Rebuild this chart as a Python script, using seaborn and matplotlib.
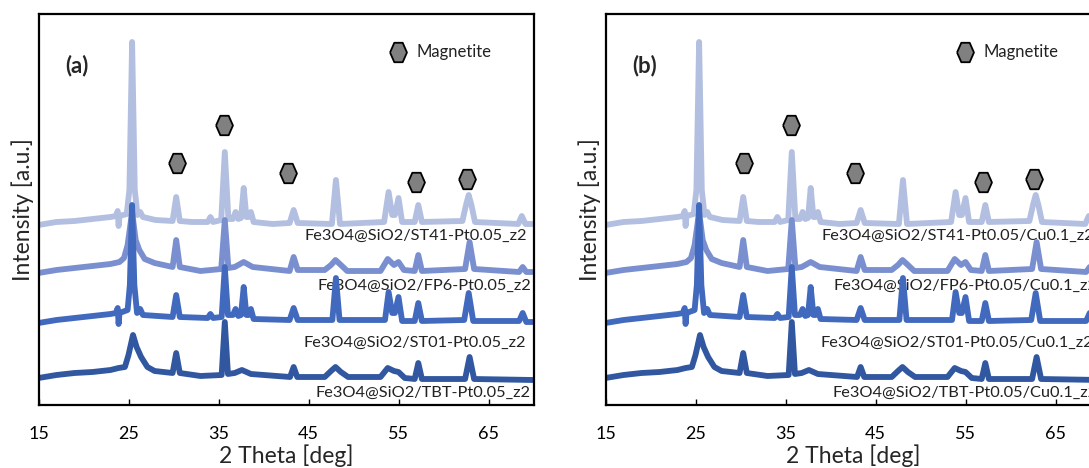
import seaborn as sns
import matplotlib.pyplot as plt

sns.set_theme(style="ticks")
plt.rcParams["font.family"] = ["Lato", "DejaVu Sans"]

# XRD patterns (2 theta in deg, intensity in arbitrary units, offsets included)
st41_x = [15.0, 17.0, 19.0, 21.0, 23.0, 23.6, 23.8, 23.9, 24.0, 24.8, 25.1, 25.4, 25.7, 26.0, 26.3, 26.6,
          28.0, 29.9, 30.3, 30.7, 32.0, 33.8, 34.1, 34.4, 35.3, 35.7, 36.1, 36.6, 36.9, 37.2, 37.5, 37.8,
          38.1, 38.35, 38.6, 38.9, 41.0, 42.9, 43.35, 43.8, 47.6, 48.05, 48.5, 53.4, 53.9, 54.3, 54.6, 55.0,
          55.4, 56.8, 57.2, 57.6, 62.1, 62.5, 62.8, 63.1, 63.5, 68.3, 68.7, 69.1, 70.0]
st41_y = [180, 183, 184, 186, 188, 189, 194, 179, 189, 191, 215, 363, 215, 190, 193, 188,
          185, 184, 208, 184, 183, 183, 188, 183, 185, 253, 186, 186, 193, 186, 187, 217,
          188, 188, 193, 183, 181, 182, 195, 182, 181, 225, 181, 183, 213, 190, 190, 207,
          183, 183, 200, 183, 184, 200, 210, 200, 183, 181, 189, 181, 181]

fp6_x = [15.0, 17.0, 19.0, 21.0, 23.0, 24.0, 24.5, 24.9, 25.4, 25.8, 26.2, 26.8, 27.9, 29.9, 30.3, 30.7,
         33.0, 35.3, 35.7, 36.1, 36.8, 37.8, 38.8, 42.9, 43.35, 43.8, 46.8, 47.5, 48.0, 48.6, 49.3, 53.0,
         53.8, 54.5, 55.0, 55.6, 56.8, 57.2, 57.6, 62.4, 62.9, 63.4, 68.4, 68.8, 69.2, 70.0]
fp6_y = [132, 135, 137, 139, 141, 143, 147, 160, 193, 165, 155, 146, 142, 138, 165, 138,
         134, 136, 185, 137, 138, 143, 138, 134, 148, 135, 135, 140, 145, 140, 134, 134,
         146, 140, 143, 135, 134, 150, 134, 136, 163, 136, 133, 138, 133, 133]

st01_x = [15.0, 17.0, 19.0, 21.0, 23.0, 23.6, 23.8, 23.9, 24.0, 24.9, 25.15, 25.4, 25.65, 25.95, 26.3, 26.6,
          29.9, 30.3, 30.7, 33.8, 34.1, 34.4, 35.35, 35.7, 36.05, 36.6, 36.9, 37.2, 37.5, 37.8, 38.1, 38.35,
          38.6, 38.9, 42.9, 43.35, 43.8, 47.65, 48.05, 48.45, 53.5, 53.9, 54.3, 54.6, 55.0, 55.4, 56.8, 57.2,
          57.6, 62.3, 62.8, 63.3, 68.4, 68.8, 69.2, 70.0]
st01_y = [82, 85, 87, 89, 91, 92, 97, 81, 92, 95, 120, 200, 120, 92, 96, 90,
          88, 110, 88, 87, 91, 87, 88, 138, 90, 90, 96, 89, 90, 118, 90, 90,
          96, 86, 85, 97, 85, 85, 127, 85, 85, 113, 92, 92, 108, 84, 84, 102,
          84, 85, 112, 84, 84, 92, 83, 83]

tbt_x = [15.0, 17.0, 19.0, 21.0, 23.0, 23.9, 24.6, 25.0, 25.5, 25.9, 26.4, 27.1, 27.9, 29.9, 30.3, 30.7,
         33.0, 35.35, 35.7, 36.05, 36.8, 37.6, 38.6, 42.95, 43.35, 43.75, 46.8, 47.5, 48.0, 48.6, 49.4, 53.0,
         53.8, 54.5, 55.0, 55.7, 56.8, 57.2, 57.6, 62.4, 62.9, 63.4, 70.0]
tbt_y = [27, 30, 32, 33, 35, 37, 38, 50, 70, 58, 48, 38, 34, 32, 52, 32,
         29, 30, 83, 31, 32, 35, 31, 28, 38, 28, 28, 34, 38, 33, 28, 28,
         37, 34, 33, 27, 26, 42, 26, 26, 48, 26, 25]

# magnetite markers
hex_x = [30.4, 35.6, 42.75, 56.9, 62.6]
hex_y = [242, 280, 232, 223, 226]

labels_a = ["Fe3O4@SiO2/ST41-Pt0.05_z2", "Fe3O4@SiO2/FP6-Pt0.05_z2",
            "Fe3O4@SiO2/ST01-Pt0.05_z2", "Fe3O4@SiO2/TBT-Pt0.05_z2"]
labels_b = ["Fe3O4@SiO2/ST41-Pt0.05/Cu0.1_z2", "Fe3O4@SiO2/FP6-Pt0.05/Cu0.1_z2",
            "Fe3O4@SiO2/ST01-Pt0.05/Cu0.1_z2", "Fe3O4@SiO2/TBT-Pt0.05/Cu0.1_z2"]
label_x = [69.3, 69.7, 69.2, 69.7]
label_y = [169, 119, 62, 12]

colors = ["#B3BFE0", "#7A8FCF", "#4169BE", "#30579F"]
traces = [(st41_x, st41_y), (fp6_x, fp6_y), (st01_x, st01_y), (tbt_x, tbt_y)]
ticks = [15, 25, 35, 45, 55, 65]

hexmark = [(-0.87, 0), (-0.43, 1), (0.43, 1), (0.87, 0), (0.43, -1), (-0.43, -1), (-0.87, 0)]

W, H = 1089, 468
fig = plt.figure(figsize=(W / 100, H / 100), dpi=100)
ax_a = fig.add_axes([38.5 / W, 63 / H, 495 / W, 391 / H])
ax_b = fig.add_axes([605.5 / W, 63 / H, 495 / W, 391 / H])


def draw_panel(ax, tag, labels):
    for (x, y), c in zip(traces, colors):
        sns.lineplot(x=x, y=y, ax=ax, color=c, linewidth=4.2, sort=False,
                     estimator=None, solid_joinstyle="round")
    ax.plot(hex_x, hex_y, linestyle="none", marker=hexmark, ms=14,
            mfc="#808080", mec="black", mew=1.3, zorder=5)
    ax.plot([54.9], [353], linestyle="none", marker=hexmark, ms=14,
            mfc="#808080", mec="black", mew=1.3, zorder=5)
    ax.text(57.0, 353, "Magnetite", fontsize=12, va="center", ha="left", color="#222222")
    ax.text(19.3, 339, tag, fontsize=16, fontweight="bold", va="center", ha="center")
    for lx, ly, t in zip(label_x, label_y, labels):
        ax.text(lx, ly, t, fontsize=11.8, ha="right", va="center", color="#222222", zorder=1.5)

    ax.set_xlim(15, 70)
    ax.set_ylim(0, 391)
    ax.set_xticks(ticks)
    ax.set_yticks([])
    ax.tick_params(axis="x", direction="in", length=4, width=1, pad=15,
                   labelsize=13, colors="black")
    for s in ax.spines.values():
        s.set_color("black")
        s.set_linewidth(1.6)
    ax.set_xlabel("2 Theta [deg]", fontsize=16.5, labelpad=2)
    ax.set_ylabel("Intensity [a.u.]", fontsize=16.5, labelpad=3)


draw_panel(ax_a, "(a)", labels_a)
draw_panel(ax_b, "(b)", labels_b)

fig.savefig("out.png", dpi=100)
